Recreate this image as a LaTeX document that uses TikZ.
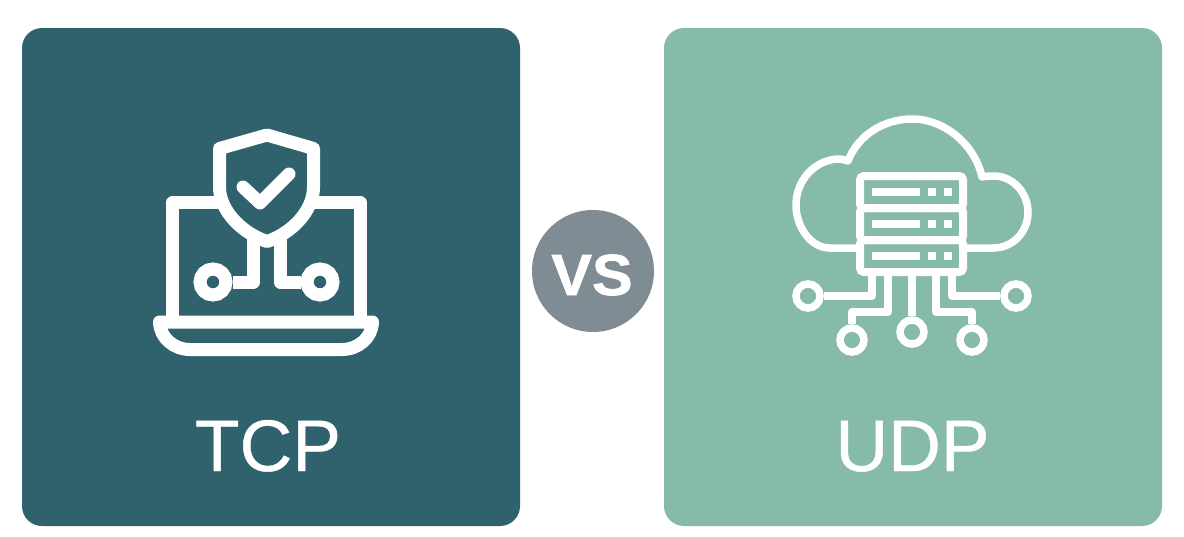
\documentclass[tikz,border=0pt]{standalone}
\usepackage{fontspec}
\setmainfont{Liberation Sans}
\newfontfamily\titlefont[FakeBold=0.6]{Liberation Sans}
\newfontfamily\vsfont[FakeBold=1.2]{Liberation Sans Bold}
\definecolor{tcpc}{HTML}{30626D}
\definecolor{udpc}{HTML}{86BAA9}
\definecolor{vsc}{HTML}{7F8C94}
\tikzset{
  panel/.style={rounded corners=20pt,minimum width=498pt,minimum height=498pt,inner sep=0pt,draw=none},
  title/.style={text=white,font=\titlefont\fontsize{73}{80}\selectfont,anchor=base,inner sep=0pt},
  thick icon/.style={draw=white,line width=13pt,line join=round,line cap=round},
  thick stub/.style={draw=white,line width=13pt,line join=round,line cap=butt},
  thin icon/.style={draw=white,line width=7.5pt,line join=round,line cap=butt},
  ring a/.style={circle,draw=white,line width=13pt,minimum size=26pt,inner sep=0pt},
  ring b/.style={circle,draw=white,line width=7.5pt,minimum size=24pt,inner sep=0pt},
  srv/.style={draw=white,line width=8pt,rounded corners=4pt,minimum width=103pt,minimum height=32pt,inner sep=0pt},
}
\begin{document}
\begin{tikzpicture}[x=1pt,y=-1pt]
\useasboundingbox (0,0) rectangle (1184,536);
\fill[white] (0,0) rectangle (1184,536);
\node[panel,fill=tcpc] (tcp) at (271,277) {};
\node[panel,fill=udpc] (udp) at (913,277) {};
\node[circle,fill=vsc,minimum size=122pt,inner sep=0pt] (vs) at (593,271) {};
\node[text=white,font=\vsfont\fontsize{58}{60}\selectfont,anchor=base,inner sep=0pt,xscale=1.05] (vslabel) at (592,295) {VS};
\node[title] (tcplabel) at (268,471) {TCP};
\node[title] (udplabel) at (912.5,471) {UDP};
% laptop
\draw[thick stub] (172.5,316) -- (172.5,202.5) -- (222,202.5);
\draw[thick stub] (311,202.5) -- (360,202.5) -- (360,316);
\draw[thick icon] (159.5,322) -- (372.5,322)
  .. controls (372,338) and (358,349.5) .. (342,349.5) -- (190,349.5)
  .. controls (174,349.5) and (160,338) .. (159.5,322) -- cycle;
% shield
\draw[thick icon] (267,135) -- (313.5,148.5) -- (313.5,187)
  .. controls (313.5,212) and (290,234) .. (267,241.5)
  .. controls (244,234) and (219.5,212) .. (219.5,187) -- (219.5,148.5) -- cycle;
\draw[thick icon] (243,187) -- (260,203) -- (289,174);
% circuit
\node[ring a] (r1) at (213,282) {};
\node[ring a] (r2) at (320,282) {};
\coordinate (s1) at (253.5,236);
\coordinate (s2) at (280,236);
\draw[thick stub] (s1) |- (r1);
\draw[thick stub] (s2) |- (r2);
% cloud
\coordinate (c1) at (857,248);
\coordinate (c2) at (966,248);
\draw[thin icon] (c1) -- (830,248)
  .. controls (810,248) and (796,226) .. (796,205)
  .. controls (796,180) and (815,160) .. (838,159)
  .. controls (842,159) and (845,160) .. (848,161)
  .. controls (858,135) and (884,119) .. (912,119)
  .. controls (945,119) and (975,145) .. (982,177)
  .. controls (986,176) and (990,176) .. (994,176)
  .. controls (1013,176) and (1028,193) .. (1028,212)
  .. controls (1028,232) and (1013,248) .. (993,248) -- (c2);
% server
\node[srv] (s3) at (911.5,256) {};
\node[srv] (s4) at (911.5,224) {};
\node[srv] (s5) at (911.5,192) {};
\foreach \y in {192,224,256}{
  \fill[white] (872,\y-4) rectangle (920,\y+4);
  \fill[white] (928,\y-4) rectangle (936,\y+4);
  \fill[white] (944,\y-4) rectangle (952,\y+4);
}
% connectors
\node[ring b] (a) at (808,296) {};
\node[ring b] (b) at (852,340) {};
\node[ring b] (c) at (912,332) {};
\node[ring b] (d) at (972,340) {};
\node[ring b] (e) at (1016,296) {};
\coordinate (p1) at (872,272);
\coordinate (p2) at (888,272);
\coordinate (p3) at (912,272);
\coordinate (p4) at (936,272);
\coordinate (p5) at (952,272);
\draw[thin icon] (p1) |- (a);
\draw[thin icon] (p5) |- (e);
\draw[thin icon] (p2) -- (888,312) -- (852,312) -- (b);
\draw[thin icon] (p4) -- (936,312) -- (972,312) -- (d);
\draw[thin icon] (p3) -- (c);
\end{tikzpicture}
\end{document}
